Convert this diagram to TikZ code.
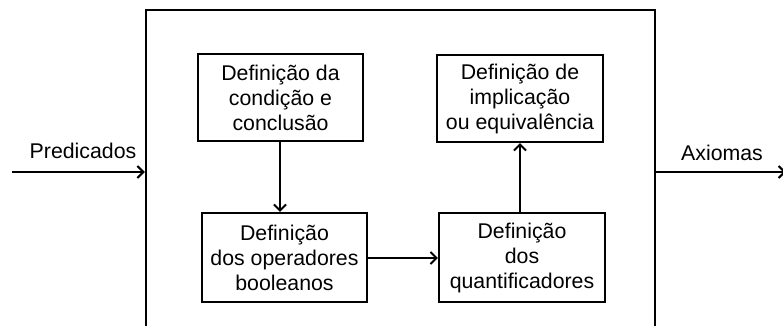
\documentclass[tikz,border=0pt]{standalone}
\usepackage{fontspec}
\setmainfont{Liberation Sans}
\usetikzlibrary{arrows.meta}
\begin{document}
\begin{tikzpicture}[x=1pt,y=-1pt,
  every node/.style={font=\fontsize{21.3}{25}\selectfont, inner sep=0pt},
  blk/.style={draw, line width=2.2pt, align=center},
  conn/.style={line width=2.2pt, -{Straight Barb[length=6pt,width=12pt,line width=2pt]}},
  lbl/.style={anchor=base}]
\useasboundingbox (0,0) rectangle (783,326);
\begin{scope}
\clip (0,0) rectangle (783,326);
\node[draw, line width=2.4pt, minimum width=509pt, minimum height=340pt] (sys) at (400.5,180) {};
\node[blk, minimum width=165pt, minimum height=87pt] (b1) at (280.5,97.5) {Definição da\\condição e\\conclusão};
\node[blk, minimum width=166pt, minimum height=87pt] (b2) at (520,98.5) {Definição de\\implicação\\ou equivalência};
\node[blk, minimum width=165pt, minimum height=89pt] (b3) at (284.5,257.5) {Definição\\dos operadores\\booleanos};
\node[blk, minimum width=166pt, minimum height=89pt] (b4) at (522,257.5) {Definição\\dos\\quantificadores};
\coordinate (in) at (12,172);
\coordinate (out) at (786,172);
\node[lbl] (lp) at (83,158) {Predicados};
\node[lbl] (la) at (722,160) {Axiomas};
\draw[conn] (in) -- (in -| sys.west);
\draw[conn] (out -| sys.east) -- (out);
\draw[conn] (b1.south -| 280,0) -- (b3.north -| 280,0);
\draw[conn] (b3.east |- 0,258) -- (b4.west |- 0,258);
\draw[conn] (b4.north -| 520,0) -- (b2.south -| 520,0);
\end{scope}
\end{tikzpicture}
\end{document}
